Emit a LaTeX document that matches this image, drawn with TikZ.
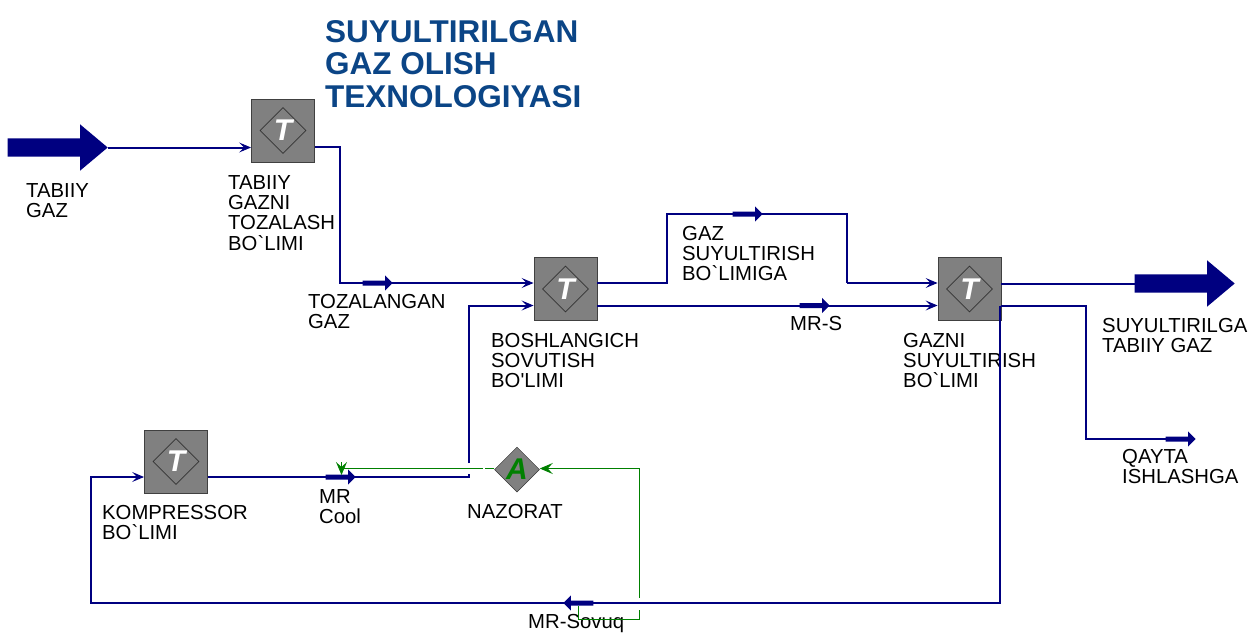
\documentclass[tikz,border=0pt]{standalone}
\usepackage{fontspec}
\setmainfont{Liberation Sans}[Ligatures=TeXOff]
\usepackage{tkz-euclide}
\usetikzlibrary{arrows.meta, shapes.geometric, shapes.arrows}
\definecolor{streamblue}{HTML}{000080}
\definecolor{titleblue}{HTML}{0B4586}
\definecolor{ctrlgreen}{HTML}{008000}
\tikzset{
    stream/.style = {streamblue, line width = 2pt},
    inlet/.style = {stream, -{Stealth[length = 12pt, width = 10pt, inset = 5pt, line width = 1pt]}},
    signal/.style = {ctrlgreen, line width = 1pt},
    signalin/.style = {signal, -{Stealth[length = 13pt, width = 11pt, inset = 5pt]}},
    opbox/.style = {draw = black!75, line width = 0.9pt, fill = black!50, minimum size = 63pt, inner sep = 0pt},
    opdiamond/.style = {diamond, aspect = 1, draw = black!80, line width = 0.7pt, minimum size = 46pt, inner sep = 0pt,
        text = white, font = \fontsize{30}{30}\selectfont\bfseries\itshape},
    ctrldiamond/.style = {diamond, aspect = 1, draw = black!80, line width = 0.5pt, fill = black!50, minimum size = 45pt, inner sep = 0pt,
        text = ctrlgreen, font = \fontsize{30}{30}\selectfont\bfseries\itshape},
    bigflow/.style = {single arrow, anchor = tip, fill = streamblue, inner sep = 0pt, minimum height = 100pt,
        single arrow head extend = 14pt, single arrow head indent = 0pt, single arrow tip angle = 80,
        execute at begin node = {\rule{0pt}{18pt}}},
    smallflow/.style = {single arrow, anchor = tip, fill = streamblue, inner sep = 0pt, minimum height = 30pt,
        single arrow head extend = 5.2pt, single arrow head indent = 0pt, single arrow tip angle = 90,
        execute at begin node = {\rule{0pt}{4.6pt}}},
    lbl/.style = {anchor = north west, inner sep = 0pt, align = left, font = \fontsize{20.3}{20.3}\selectfont},
    titlelbl/.style = {lbl, text = titleblue, font = \fontsize{31.5}{32.5}\selectfont\bfseries},
}
\begin{document}
\begin{tikzpicture}[x = 1pt, y = -1pt]
            \useasboundingbox (0,0) rectangle (1253,632);
            \tkzDefPoints{340/147/Aa, 340/283/Ab, 667/283/Ba, 667/214/Bb, 847/214/Bc, 847/283/Bd,
                1086/305.5/Ca, 1086/439/Cb, 1166/439/Cc, 1000/305.5/Da, 1000/603/Db, 91/603/Dc, 91/477/Dd,
                468.5/477/Ea, 468.5/463/Eb, 468.5/305.5/Ec, 485/468.5/Fa, 483/468.5/Fb, 341.5/468.5/Fc, 341.5/462/Fd, 341.5/475/Fe,
                639.5/468.5/Ga, 639.5/598/Gb, 639.5/610/Gc, 639.5/619.5/Gd, 578.5/619.5/Ge, 578.5/606/Gf}
            % labels
            \node[titlelbl] (title) at (325,20) {SUYULTIRILGAN\\GAZ OLISH\\TEXNOLOGIYASI};
            \node[lbl] (lblfeed) at (26,183.5) {TABIIY\\GAZ};
            \node[lbl] (lbltoz) at (228,175) {TABIIY\\GAZNI\\TOZALASH\\BO`LIMI};
            \node[lbl] (lblclean) at (308,294) {TOZALANGAN\\GAZ};
            \node[lbl] (lblgaz) at (682,226) {GAZ\\SUYULTIRISH\\BO`LIMIGA};
            \node[lbl] (lblsov) at (491,333) {BOSHLANGICH\\SOVUTISH\\BO'LIMI};
            \node[lbl] (lblmrs) at (790,316) {MR-S};
            \node[lbl] (lblsuy) at (903,333) {GAZNI\\SUYULTIRISH\\BO`LIMI};
            \node[lbl] (lblprod) at (1102,318) {SUYULTIRILGA\\TABIIY GAZ};
            \node[lbl] (lblqayta) at (1122,449) {QAYTA\\ISHLASHGA};
            \node[lbl] (lblcool) at (319,489) {MR\\Cool};
            \node[lbl] (lblnaz) at (467,504) {NAZORAT};
            \node[lbl] (lblkomp) at (102,505) {KOMPRESSOR\\BO`LIMI};
            \node[lbl] (lblmrsov) at (528,614) {MR-Sovuq};
            % units
            \node[opbox] (tozalash) at (283,130.5) {};
            \node[opdiamond] at (tozalash.center) {T};
            \node[opbox] (sovutish) at (565.5,289) {};
            \node[opdiamond] at (sovutish.center) {T};
            \node[opbox] (suyultirish) at (969.5,289) {};
            \node[opdiamond] at (suyultirish.center) {T};
            \node[opbox] (kompressor) at (176,461.5) {};
            \node[opdiamond] at (kompressor.center) {T};
            \node[ctrldiamond] (nazorat) at (517,469.5) {A};
            % big and small flow arrows
            \node[bigflow] (feed) at (108,147.5) {};
            \node[bigflow] (product) at (1235,283.5) {};
            \node[smallflow] (mrcool) at (356,477) {};
            \node[smallflow] (clean) at (393,283) {};
            \node[smallflow] (gas) at (763,214) {};
            \node[smallflow] (mrs) at (830,305.5) {};
            \node[smallflow] (recycle) at (1196,439) {};
            \node[smallflow, shape border rotate = 180] (mrsov) at (563,603) {};
            % streams
            \draw[inlet] (feed.tip) -- (tozalash.west |- feed.tip);
            \draw[inlet] (tozalash.east |- Aa) -- (Aa) -- (Ab) -- (sovutish.west |- Ab);
            \draw[stream] (sovutish.east |- Ba) -- (Ba) -- (Bb) -- (Bc) -- (Bd);
            \draw[inlet] (Bd) -- (suyultirish.west |- Bd);
            \draw[inlet] (sovutish.east |- mrs) -- (suyultirish.west |- mrs);
            \draw[stream] (suyultirish.east |- product) -- (product.tail);
            \draw[stream] (suyultirish.east |- Ca) -- (Ca) -- (Cb) -- (recycle.tail);
            \draw[inlet] (Da) -- (Db) -- (Dc) -- (Dd) -- (kompressor.west |- Dd);
            \draw[stream] (kompressor.east |- Ea) -- (Ea) -- ++(0,-3);
            \draw[inlet] (Eb) -- (Ec) -- (sovutish.west |- Ec);
            % control signals
            \draw[signal] (nazorat.west |- Fa) -- (Fa);
            \draw[signal] (Fb) -- (Fc);
            \draw[signalin] (Fd) -- (Fe);
            \draw[signalin] (Ga) -- (nazorat.east |- Ga);
            \draw[signal] (Ga) -- (Gb);
            \draw[signal] (Gc) -- (Gd) -- (Ge) -- (Gf);
        \end{tikzpicture}
\end{document}
